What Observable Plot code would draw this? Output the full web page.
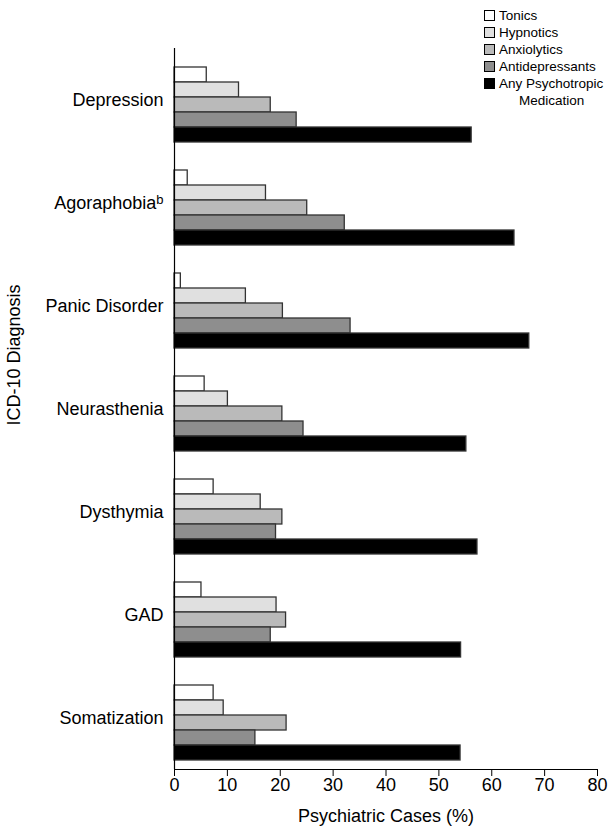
<!DOCTYPE html>
<html>
<head>
<meta charset="utf-8">
<script src="https://cdn.jsdelivr.net/npm/d3@7"></script>
<script src="https://cdn.jsdelivr.net/npm/@observablehq/plot@0.6"></script>
<style>
  html, body { margin: 0; padding: 0; background: #fff; }
  #wrap { position: relative; width: 611px; height: 830px; font-family: "Liberation Sans", Arial, sans-serif; }
  #legend { position: absolute; left: 484px; top: 7px; font-size: 13.5px; line-height: 17px; color: #000; }
  #legend .row { display: flex; align-items: center; white-space: nowrap; }
  #legend .sw { width: 9px; height: 9px; border: 1px solid #000; margin-right: 4px; flex: none; }
  #legend .cont { padding-left: 35px; }
</style>
</head>
<body>
<div id="wrap"><div id="legend"></div></div>
<script>
// Categories (top to bottom)
const diagnoses = ["Depression", "Agoraphobia", "Panic Disorder", "Neurasthenia", "Dysthymia", "GAD", "Somatization"];
const diagnosisSup = {"Agoraphobia": "b"};
// Series
const medications = ["Tonics", "Hypnotics", "Anxiolytics", "Antidepressants", "Any Psychotropic Medication"];
const tonics          = [6.1, 2.5, 1.2, 5.7, 7.4, 5.1, 7.4];
const hypnotics       = [12.2, 17.3, 13.5, 10.1, 16.3, 19.3, 9.3];
const anxiolytics     = [18.2, 25.1, 20.5, 20.4, 20.4, 21.1, 21.2];
const antidepressants = [23.1, 32.2, 33.3, 24.4, 19.2, 18.2, 15.3];
const anyPsychotropic = [56.2, 64.3, 67.1, 55.2, 57.3, 54.2, 54.1];
const xTicks = [0, 10, 20, 30, 40, 50, 60, 70, 80];
const fills = ["#ffffff", "#e0e0e0", "#bababa", "#8e8e8e", "#000000"];

const seriesValues = [tonics, hypnotics, anxiolytics, antidepressants, anyPsychotropic];
const data = diagnoses.flatMap((d, i) =>
  medications.map((m, j) => ({diagnosis: d, medication: m, value: seriesValues[j][i]}))
);

const chart = Plot.plot({
  width: 611,
  height: 830,
  marginTop: 45,
  marginBottom: 59,
  marginLeft: 174,
  marginRight: 14,
  style: {fontFamily: "'Liberation Sans', Arial, sans-serif", fontSize: "18px", color: "#000", background: "transparent"},
  x: {domain: [0, 80], ticks: xTicks, tickSize: 7, tickPadding: 2, line: true,
      label: "Psychiatric Cases (%)", labelAnchor: "center", labelArrow: "none", labelOffset: 52},
  y: {domain: medications, axis: null, paddingInner: 0, paddingOuter: 0.741, align: 0.675},
  fy: {domain: diagnoses, padding: 0, axis: "left", tickSize: 0, tickPadding: 11, label: null},
  color: {domain: medications, range: fills},
  marks: [
    Plot.barX(data, {fy: "diagnosis", y: "medication", x: "value", fill: "medication",
                     stroke: "#333", strokeWidth: 1.3}),
    Plot.ruleX([0], {stroke: "#000", strokeWidth: 1.2})
  ]
});

const wrap = document.getElementById("wrap");
wrap.insertBefore(chart, wrap.firstChild);

// superscript on diagnosis labels
const ns = "http://www.w3.org/2000/svg";
chart.querySelectorAll("text").forEach(t => {
  const s = t.textContent;
  if (diagnosisSup[s] && t.children.length === 0) {
    const sp = document.createElementNS(ns, "tspan");
    sp.setAttribute("dy", "-0.4em");
    sp.setAttribute("font-size", "13px");
    sp.textContent = diagnosisSup[s];
    t.appendChild(sp);
  }
});

// y title
const yt = document.createElementNS(ns, "text");
yt.setAttribute("transform", "translate(20,355) rotate(-90)");
yt.setAttribute("text-anchor", "middle");
yt.setAttribute("fill", "#000");
yt.textContent = "ICD-10 Diagnosis";
chart.appendChild(yt);

// legend
const legend = document.getElementById("legend");
medications.forEach((m, j) => {
  const parts = m === "Any Psychotropic Medication" ? ["Any Psychotropic", "Medication"] : [m];
  const row = document.createElement("div");
  row.className = "row";
  const sw = document.createElement("span");
  sw.className = "sw";
  sw.style.background = fills[j];
  row.appendChild(sw);
  const tx = document.createElement("span");
  tx.textContent = parts[0];
  row.appendChild(tx);
  legend.appendChild(row);
  if (parts[1]) {
    const c = document.createElement("div");
    c.className = "cont";
    c.textContent = parts[1];
    legend.appendChild(c);
  }
});
</script>
</body>
</html>
